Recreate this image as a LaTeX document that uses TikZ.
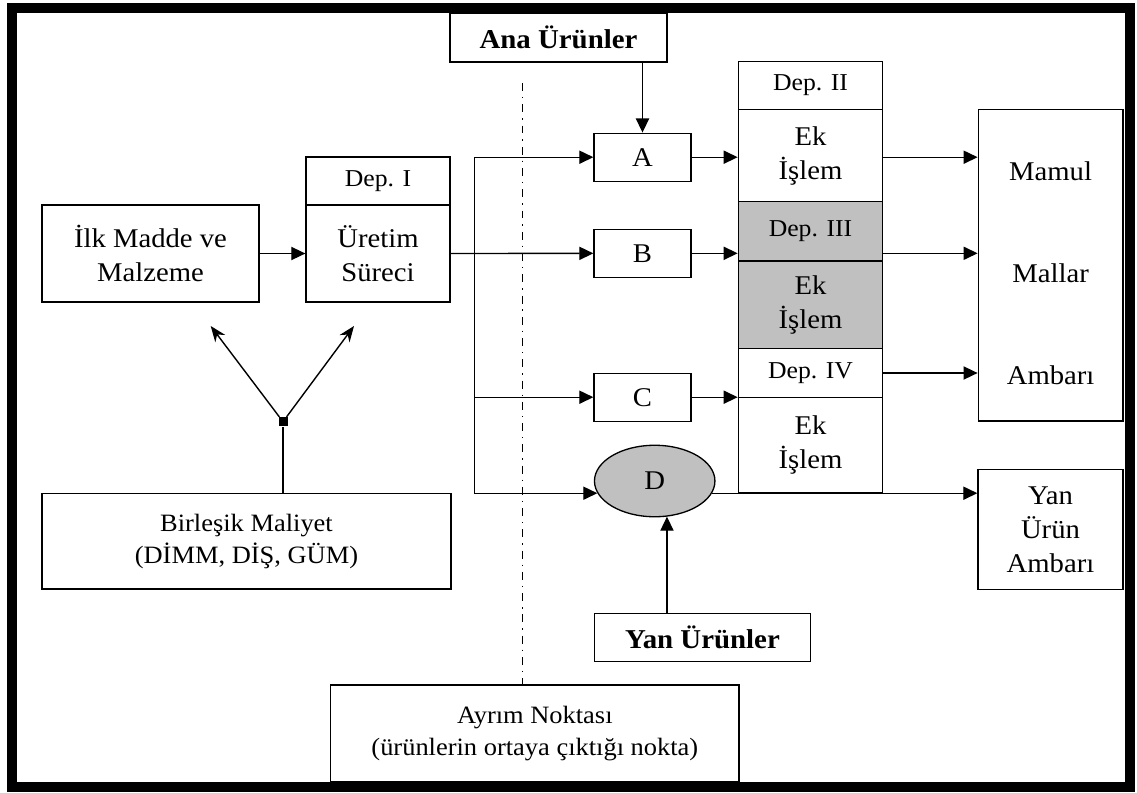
\documentclass[tikz,border=0pt]{standalone}
\usepackage{fontspec}
\setmainfont{Liberation Serif}[FakeStretch=1.06]
\usepackage{xcolor}
\usepackage{tikz}
\usetikzlibrary{positioning, arrows.meta, shapes.geometric}
\definecolor{boxgray}{HTML}{C0C0C0}

\begin{document}
\begin{tikzpicture}[
    x=0.02cm, y=-0.02cm,
    font=\fontsize{15.4}{19.35}\selectfont,
    box/.style={
        rectangle,
        draw=black,
        line width=0.75pt,
        inner sep=0pt,
        align=center
    },
    depbox/.style={box, font=\fontsize{13.8}{16}\selectfont},
    grey/.style={fill=boxgray},
    boldtxt/.style={font=\fontsize{15.5}{18}\selectfont\bfseries},
    smalltxt/.style={font=\fontsize{14.2}{18}\selectfont},
    arr/.style={-{Triangle[length=8pt,width=7.5pt]}, line width=0.75pt},
    spr/.style={-{Stealth[length=9pt,width=7pt]}, line width=0.8pt},
    cut/.style={line width=0.7pt, dash pattern=on 4.5pt off 3.4pt on 0.8pt off 3.4pt}
]
\useasboundingbox (0,0) rectangle (1137,792);

% Left side
\node[box, minimum width=4.34cm, minimum height=0.98cm, boldtxt] (ana) at (558.5,37.5) {Ana Ürünler};
\node[box, minimum width=4.34cm, minimum height=1.94cm] (ilk) at (150.5,253.5) {İlk Madde ve\\Malzeme};
\node[depbox, minimum width=2.88cm, minimum height=0.96cm] (dep1) at (378,181) {Dep. I};
\node[box, minimum width=2.88cm, minimum height=1.94cm] (uretim) at (378,253.5) {Üretim\\Süreci};
\node[box, minimum width=8.18cm, minimum height=1.914cm, smalltxt] (birlesik) at (246.5,541.2) {Birleşik Maliyet\\(DİMM, DİŞ, GÜM)};
\node[fill, minimum size=0.18cm, inner sep=0pt] (jn) at (283,421.7) {};
\node[box, minimum width=8.166cm, minimum height=1.94cm, smalltxt] (ayrim) at (534.85,733.5) {Ayrım Noktası\\(ürünlerin ortaya çıktığı nokta)};

% Products
\node[box, minimum width=1.94cm, minimum height=0.96cm] (pa) at (642.5,157.2) {A};
\node[box, minimum width=1.94cm, minimum height=0.96cm] (pb) at (642.5,253.3) {B};
\node[box, minimum width=1.94cm, minimum height=0.96cm] (pc) at (642.5,397.2) {C};
\node[ellipse, draw, grey, line width=0.75pt, inner sep=0pt, minimum width=2.41cm, minimum height=1.43cm] (pd) at (654.7,481) {D};
\node[box, minimum width=4.328cm, minimum height=0.968cm, boldtxt] (yan) at (702.5,637.5) {Yan Ürünler};

% Departments
\node[depbox, minimum width=2.888cm, minimum height=0.952cm] (dep2) at (810.5,85.5) {Dep. II};
\node[box, minimum width=2.888cm, minimum height=1.848cm] (ek2) at (810.5,155.5) {Ek\\İşlem};
\node[depbox, grey, minimum width=2.888cm, minimum height=1.186cm] (dep3) at (810.5,231.35) {Dep. III};
\node[box, grey, minimum width=2.888cm, minimum height=1.754cm] (ek3) at (810.5,304.85) {Ek\\İşlem};
\node[depbox, minimum width=2.888cm, minimum height=0.972cm] (dep4) at (810.5,373) {Dep. IV};
\node[box, minimum width=2.888cm, minimum height=1.908cm] (ek4) at (810.5,445) {Ek\\İşlem};

% Stores
\node[box, minimum width=2.894cm, minimum height=6.234cm] (mamul) at (1050.6,265.2) {\rule{0pt}{0.7cm}Mamul\\[1.36cm]Mallar\\[1.36cm]Ambarı};
\node[box, minimum width=2.9cm, minimum height=2.4cm] (yanamb) at (1050.5,529.3) {Yan\\Ürün\\Ambarı};

% Connectors
\draw[arr] (ana.south -| pa.north) -- (pa.north);
\draw[arr] (ilk) -- (uretim);
\coordinate (bus) at (474.5,253.3);
\coordinate (dIn) at (pd.192);
\draw[arr] (uretim) -- (pb);
\draw[arr] (bus) |- (pa.west);
\draw[arr] (bus) |- (pc.west);
\draw[arr] (bus) |- (dIn);

\draw[arr] (pa) -- (pa -| ek2.west);
\draw[arr] (pb) -- (pb -| dep3.west);
\draw[arr] (pc) -- (pc -| ek4.west);

\draw[arr] (pa -| ek2.east) -- (pa -| mamul.west);
\draw[arr] (pb -| dep3.east) -- (pb -| mamul.west);
\draw[arr] (dep4.east) -- (dep4.east -| mamul.west);

\coordinate (dOut) at (pd.-12);
\coordinate (dBot) at (pd.-71);
\draw[arr] (dOut) -- (dOut -| yanamb.west);
\draw[arr] (dBot |- yan.north) -- (dBot);

\coordinate (tipL) at (210.7,326);
\coordinate (tipR) at (354,326);
\draw[line width=0.75pt] (birlesik.north -| jn) -- (jn);
\draw[spr] (jn) -- (tipL);
\draw[spr] (jn) -- (tipR);

\coordinate (cutTop) at (522.7,83);
\draw[cut] (cutTop) -- (cutTop |- ayrim.north);

% Frame
\draw[line width=0.2cm] (12,7.5) rectangle (1130,787);

\end{tikzpicture}
\end{document}
